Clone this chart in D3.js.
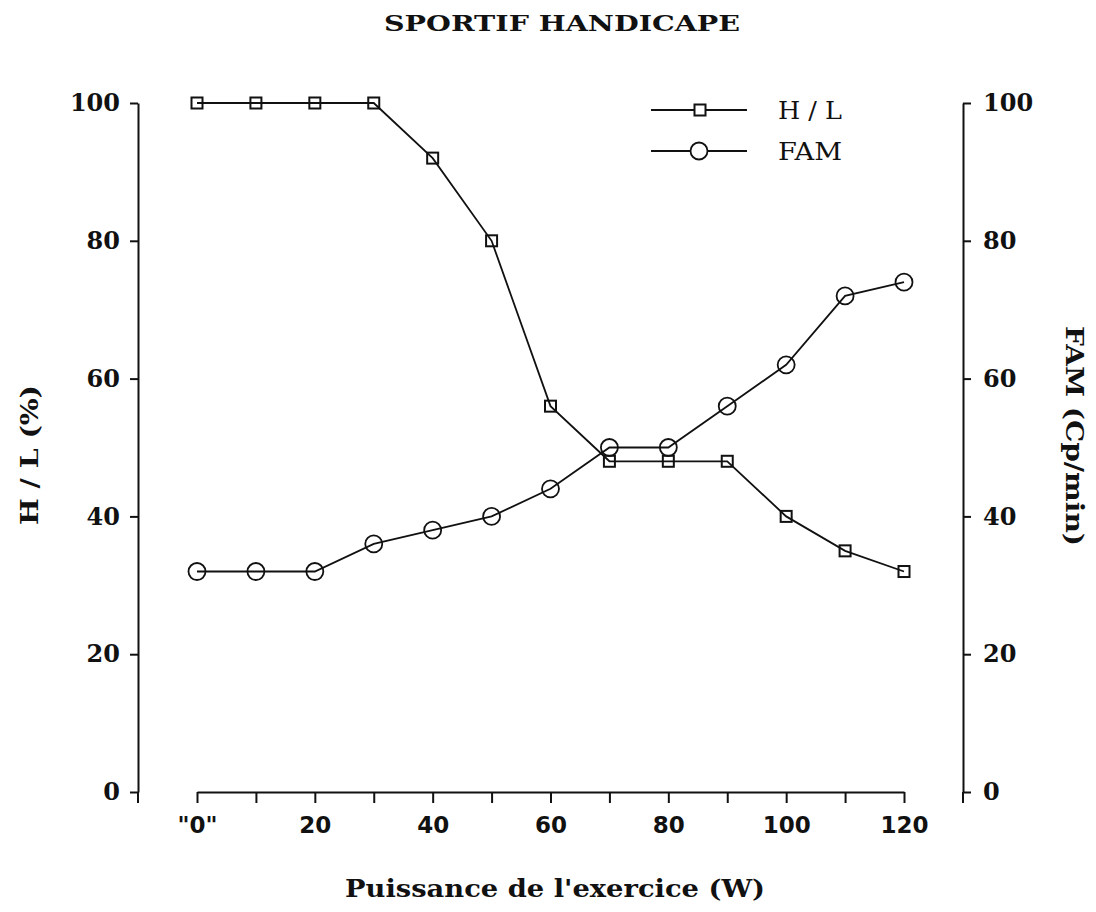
<!DOCTYPE html>
<html>
<head>
<meta charset="utf-8">
<script src="https://cdn.jsdelivr.net/npm/d3@7"></script>
<style>
  html, body { margin: 0; padding: 0; background: #fff; }
  svg { display: block; }
</style>
</head>
<body>
<svg id="chart" width="1096" height="912"></svg>
<script>
// Exercise power (W)
const power = [0, 10, 20, 30, 40, 50, 60, 70, 80, 90, 100, 110, 120];
// H / L ratio (%)
const hl = [100, 100, 100, 100, 92, 80, 56, 48, 48, 48, 40, 35, 32];
// FAM (Cp/min)
const fam = [32, 32, 32, 36, 38, 40, 44, 50, 50, 56, 62, 72, 74];

const yTicks = [0, 20, 40, 60, 80, 100];
const xTicks = [0, 10, 20, 30, 40, 50, 60, 70, 80, 90, 100, 110, 120];
const xTickLabels = {0: '"0"', 20: "20", 40: "40", 60: "60", 80: "80", 100: "100", 120: "120"};

const ink = "#111";
const svg = d3.select("#chart");

const x = d3.scaleLinear().domain([0, 120]).range([197, 904]);
const yL = d3.scaleLinear().domain([0, 100]).range([792, 103]);
const yR = d3.scaleLinear().domain([0, 100]).range([792, 103]);

// Title
svg.append("text")
  .attr("x", 562).attr("y", 31)
  .attr("text-anchor", "middle")
  .attr("font-family", "DejaVu Serif")
  .attr("font-weight", "bold")
  .attr("font-size", 23)
  .attr("textLength", 356).attr("lengthAdjust", "spacingAndGlyphs")
  .attr("fill", ink)
  .text("SPORTIF HANDICAPE");

// Left axis
const gL = svg.append("g").attr("transform", "translate(138,0)")
  .call(d3.axisLeft(yL).tickValues(yTicks).tickSize(8).tickSizeOuter(0).tickPadding(10));
gL.append("line").attr("x1", 0).attr("x2", 0).attr("y1", yL(0)).attr("y2", yL(0) + 11);

// Right axis
const gR = svg.append("g").attr("transform", "translate(963,0)")
  .call(d3.axisRight(yR).tickValues(yTicks).tickSize(8).tickSizeOuter(0).tickPadding(12));
gR.append("line").attr("x1", 0).attr("x2", 0).attr("y1", yR(0)).attr("y2", yR(0) + 11);

// Bottom axis
const gB = svg.append("g").attr("transform", "translate(0,792)")
  .call(d3.axisBottom(x).tickValues(xTicks).tickSize(11).tickSizeOuter(0).tickPadding(14)
    .tickFormat(d => xTickLabels[d] || ""));

[gL, gR, gB].forEach(g => {
  g.selectAll("path, line").attr("stroke", ink).attr("stroke-width", 2);
  g.selectAll("text").attr("fill", ink)
    .attr("font-family", "DejaVu Serif").attr("font-weight", "bold").attr("font-size", 24);
});
gB.selectAll("text").attr("font-family", "DejaVu Sans").attr("font-size", 23);

// Axis titles
svg.append("text")
  .attr("x", 555).attr("y", 897)
  .attr("text-anchor", "middle")
  .attr("font-family", "DejaVu Serif").attr("font-weight", "bold").attr("font-size", 24)
  .attr("textLength", 420).attr("lengthAdjust", "spacingAndGlyphs")
  .attr("fill", ink)
  .text("Puissance de l'exercice (W)");

svg.append("text")
  .attr("transform", "translate(38,455) rotate(-90)")
  .attr("text-anchor", "middle")
  .attr("font-family", "DejaVu Serif").attr("font-weight", "bold").attr("font-size", 24)
  .attr("textLength", 140).attr("lengthAdjust", "spacingAndGlyphs")
  .attr("fill", ink)
  .text("H / L (%)");

svg.append("text")
  .attr("transform", "translate(1066,436) rotate(90)")
  .attr("text-anchor", "middle")
  .attr("font-family", "DejaVu Serif").attr("font-weight", "bold").attr("font-size", 24)
  .attr("textLength", 220).attr("lengthAdjust", "spacingAndGlyphs")
  .attr("fill", ink)
  .text("FAM (Cp/min)");

// Series
const lineL = d3.line().x((d, i) => x(power[i])).y(d => yL(d));
const lineR = d3.line().x((d, i) => x(power[i])).y(d => yR(d));

svg.append("path").datum(hl).attr("d", lineL)
  .attr("fill", "none").attr("stroke", ink).attr("stroke-width", 1.8);
svg.append("path").datum(fam).attr("d", lineR)
  .attr("fill", "none").attr("stroke", ink).attr("stroke-width", 1.8);

const sq = 11;
svg.append("g").selectAll("rect").data(hl).join("rect")
  .attr("x", (d, i) => x(power[i]) - sq / 2)
  .attr("y", d => yL(d) - sq / 2)
  .attr("width", sq).attr("height", sq)
  .attr("fill", "none").attr("stroke", ink).attr("stroke-width", 2);

svg.append("g").selectAll("circle").data(fam).join("circle")
  .attr("cx", (d, i) => x(power[i]))
  .attr("cy", d => yR(d))
  .attr("r", 8.5)
  .attr("fill", "none").attr("stroke", ink).attr("stroke-width", 1.8);

// Legend
const legend = svg.append("g");
const legItems = [{label: "H / L", y: 110, shape: "square"}, {label: "FAM", y: 151, shape: "circle"}];
legItems.forEach(it => {
  legend.append("line").attr("x1", 651).attr("x2", 747).attr("y1", it.y).attr("y2", it.y)
    .attr("stroke", ink).attr("stroke-width", 2);
  if (it.shape === "square") {
    legend.append("rect").attr("x", 700 - sq / 2).attr("y", it.y - sq / 2)
      .attr("width", sq).attr("height", sq)
      .attr("fill", "#fff").attr("stroke", ink).attr("stroke-width", 2);
  } else {
    legend.append("circle").attr("cx", 699).attr("cy", it.y).attr("r", 8.5)
      .attr("fill", "#fff").attr("stroke", ink).attr("stroke-width", 1.8);
  }
  legend.append("text").attr("x", 778).attr("y", it.y + 9)
    .attr("font-family", "DejaVu Serif").attr("font-size", 24)
    .attr("textLength", 64).attr("lengthAdjust", "spacingAndGlyphs")
    .attr("fill", ink).text(it.label);
});
</script>
</body>
</html>
